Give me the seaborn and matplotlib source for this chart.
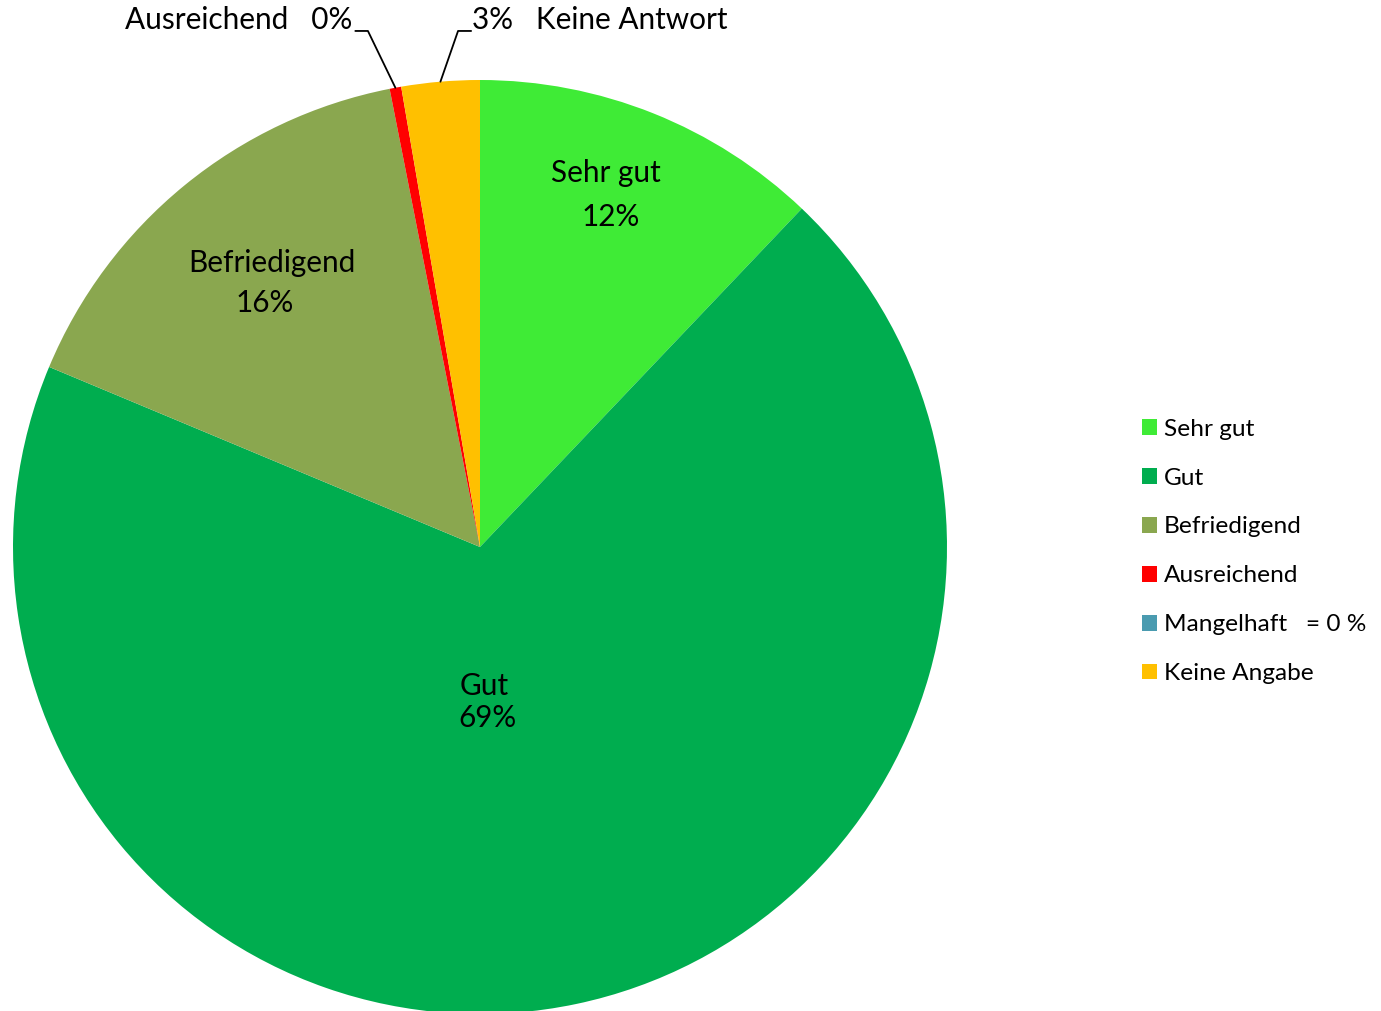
import numpy as np
import matplotlib
matplotlib.use("Agg")
import matplotlib.pyplot as plt
from matplotlib.patches import Patch
import seaborn as sns

# Werte (in %), von oben im Uhrzeigersinn
categories = ["Sehr gut", "Gut", "Befriedigend", "Ausreichend", "Mangelhaft", "Keine Angabe"]
values = [12.1, 69.2, 15.6, 0.4, 0.0, 2.7]
colors = ["#3FEB36", "#00AD4F", "#8AA74F", "#FF0000", "#4A9BB0", "#FFC000"]
legend_labels = ["Sehr gut", "Gut", "Befriedigend", "Ausreichend", "Mangelhaft   = 0 %", "Keine Angabe"]

LABEL_SIZE = 21.4
LEGEND_SIZE = 17.6

sns.set_theme(style="white")
plt.rcParams["font.family"] = ["Lato", "DejaVu Sans"]
plt.rcParams["text.color"] = "black"

fig = plt.figure(figsize=(13.81, 10.11), dpi=100)
ax = fig.add_axes([480 / 1381 - 467 / 1381, -3 / 1011, 934 / 1381, 934 / 1011])

wedges, _ = ax.pie(values, colors=colors, startangle=90, counterclock=False,
                   radius=1, wedgeprops=dict(linewidth=0))
ax.set_xlim(-1, 1)
ax.set_ylim(-1, 1)
ax.set_aspect("equal")
ax.axis("off")

pct = [f"{round(v):.0f}%" for v in values]

# Beschriftungen innerhalb der Segmente
ax.text(0.27, 0.80, categories[0], ha="center", va="center", fontsize=LABEL_SIZE)
ax.text(0.28, 0.707, pct[0], ha="center", va="center", fontsize=LABEL_SIZE)
ax.text(0.01, -0.298, categories[1], ha="center", va="center", fontsize=LABEL_SIZE)
ax.text(0.015, -0.366, pct[1], ha="center", va="center", fontsize=LABEL_SIZE)
ax.text(-0.446, 0.609, categories[2], ha="center", va="center", fontsize=LABEL_SIZE)
ax.text(-0.462, 0.523, pct[2], ha="center", va="center", fontsize=LABEL_SIZE)

# Führungslinien für kleine Segmente
def mid_angle(w):
    return np.deg2rad((w.theta1 + w.theta2) / 2)

a = mid_angle(wedges[3])
ax.plot([np.cos(a), -0.240, -0.267], [np.sin(a), 1.105, 1.105],
        color="black", lw=1.3, clip_on=False)
ax.text(-0.274, 1.128, f"Ausreichend   {pct[3]}", ha="right", va="center",
        fontsize=LABEL_SIZE)

a = mid_angle(wedges[5])
ax.plot([np.cos(a), -0.047, -0.019], [np.sin(a), 1.105, 1.105],
        color="black", lw=1.3, clip_on=False)
ax.text(-0.017, 1.128, f"{pct[5]}   Keine Antwort", ha="left", va="center",
        fontsize=LABEL_SIZE)

handles = [Patch(facecolor=c, edgecolor="none", label=l) for c, l in zip(colors, legend_labels)]
fig.legend(handles=handles, loc="upper left", bbox_to_anchor=(0.8195, 0.5955),
           frameon=False, fontsize=LEGEND_SIZE, handlelength=0.62, handleheight=0.62,
           handletextpad=0.3, labelspacing=1.14, borderaxespad=0)

fig.savefig("out.png", dpi=100)
